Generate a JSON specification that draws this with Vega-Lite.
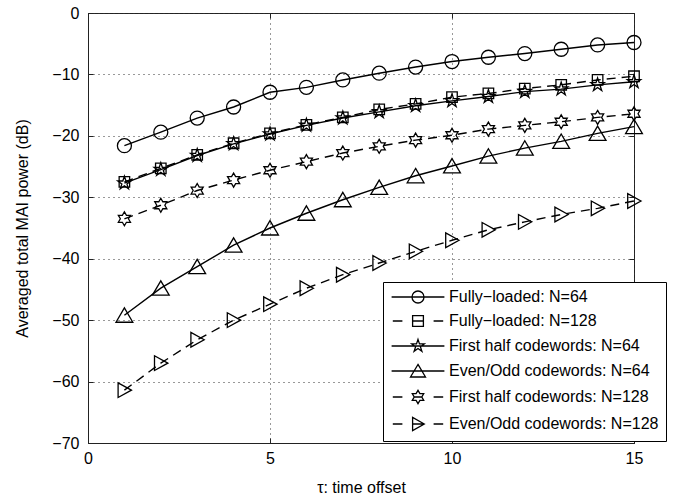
{
  "$schema": "https://vega.github.io/schema/vega-lite/v6.json",
  "width": 546,
  "height": 430,
  "autosize": {"type": "none"},
  "padding": {"left": 88, "top": 13, "right": 48, "bottom": 54},
  "background": "white",
  "config": {
    "font": "Liberation Sans",
    "view": {"stroke": "#222", "strokeWidth": 1},
    "axis": {
      "labelFont": "Liberation Sans",
      "labelFontSize": 16,
      "labelColor": "black",
      "titleFont": "Liberation Sans",
      "titleFontSize": 16,
      "titleFontWeight": "normal",
      "titleColor": "black",
      "domainColor": "#222",
      "tickColor": "#222",
      "labelFlush": false,
      "labelOverlap": false
    }
  },
  "data": {
    "values": [
      {"s": "Fully\u2212loaded: N=64", "x": 1, "y": -21.6},
      {"s": "Fully\u2212loaded: N=64", "x": 2, "y": -19.4},
      {"s": "Fully\u2212loaded: N=64", "x": 3, "y": -17.1},
      {"s": "Fully\u2212loaded: N=64", "x": 4, "y": -15.3},
      {"s": "Fully\u2212loaded: N=64", "x": 5, "y": -12.9},
      {"s": "Fully\u2212loaded: N=64", "x": 6, "y": -12.1},
      {"s": "Fully\u2212loaded: N=64", "x": 7, "y": -10.9},
      {"s": "Fully\u2212loaded: N=64", "x": 8, "y": -9.8},
      {"s": "Fully\u2212loaded: N=64", "x": 9, "y": -8.8},
      {"s": "Fully\u2212loaded: N=64", "x": 10, "y": -7.9},
      {"s": "Fully\u2212loaded: N=64", "x": 11, "y": -7.2},
      {"s": "Fully\u2212loaded: N=64", "x": 12, "y": -6.6},
      {"s": "Fully\u2212loaded: N=64", "x": 13, "y": -5.9},
      {"s": "Fully\u2212loaded: N=64", "x": 14, "y": -5.2},
      {"s": "Fully\u2212loaded: N=64", "x": 15, "y": -4.8},
      {"s": "Fully\u2212loaded: N=128", "x": 1, "y": -27.5},
      {"s": "Fully\u2212loaded: N=128", "x": 2, "y": -25.3},
      {"s": "Fully\u2212loaded: N=128", "x": 3, "y": -23.1},
      {"s": "Fully\u2212loaded: N=128", "x": 4, "y": -21.2},
      {"s": "Fully\u2212loaded: N=128", "x": 5, "y": -19.6},
      {"s": "Fully\u2212loaded: N=128", "x": 6, "y": -18.2},
      {"s": "Fully\u2212loaded: N=128", "x": 7, "y": -17.0},
      {"s": "Fully\u2212loaded: N=128", "x": 8, "y": -15.7},
      {"s": "Fully\u2212loaded: N=128", "x": 9, "y": -14.8},
      {"s": "Fully\u2212loaded: N=128", "x": 10, "y": -13.7},
      {"s": "Fully\u2212loaded: N=128", "x": 11, "y": -13.1},
      {"s": "Fully\u2212loaded: N=128", "x": 12, "y": -12.3},
      {"s": "Fully\u2212loaded: N=128", "x": 13, "y": -11.7},
      {"s": "Fully\u2212loaded: N=128", "x": 14, "y": -10.9},
      {"s": "Fully\u2212loaded: N=128", "x": 15, "y": -10.3},
      {"s": "First half codewords: N=64", "x": 1, "y": -27.7},
      {"s": "First half codewords: N=64", "x": 2, "y": -25.5},
      {"s": "First half codewords: N=64", "x": 3, "y": -23.2},
      {"s": "First half codewords: N=64", "x": 4, "y": -21.3},
      {"s": "First half codewords: N=64", "x": 5, "y": -19.7},
      {"s": "First half codewords: N=64", "x": 6, "y": -18.3},
      {"s": "First half codewords: N=64", "x": 7, "y": -17.1},
      {"s": "First half codewords: N=64", "x": 8, "y": -16.1},
      {"s": "First half codewords: N=64", "x": 9, "y": -15.1},
      {"s": "First half codewords: N=64", "x": 10, "y": -14.3},
      {"s": "First half codewords: N=64", "x": 11, "y": -13.6},
      {"s": "First half codewords: N=64", "x": 12, "y": -12.8},
      {"s": "First half codewords: N=64", "x": 13, "y": -12.4},
      {"s": "First half codewords: N=64", "x": 14, "y": -11.7},
      {"s": "First half codewords: N=64", "x": 15, "y": -11.2},
      {"s": "Even/Odd codewords: N=64", "x": 1, "y": -49.2},
      {"s": "Even/Odd codewords: N=64", "x": 2, "y": -44.8},
      {"s": "Even/Odd codewords: N=64", "x": 3, "y": -41.3},
      {"s": "Even/Odd codewords: N=64", "x": 4, "y": -37.8},
      {"s": "Even/Odd codewords: N=64", "x": 5, "y": -35.0},
      {"s": "Even/Odd codewords: N=64", "x": 6, "y": -32.6},
      {"s": "Even/Odd codewords: N=64", "x": 7, "y": -30.4},
      {"s": "Even/Odd codewords: N=64", "x": 8, "y": -28.4},
      {"s": "Even/Odd codewords: N=64", "x": 9, "y": -26.5},
      {"s": "Even/Odd codewords: N=64", "x": 10, "y": -24.9},
      {"s": "Even/Odd codewords: N=64", "x": 11, "y": -23.3},
      {"s": "Even/Odd codewords: N=64", "x": 12, "y": -22.0},
      {"s": "Even/Odd codewords: N=64", "x": 13, "y": -20.9},
      {"s": "Even/Odd codewords: N=64", "x": 14, "y": -19.6},
      {"s": "Even/Odd codewords: N=64", "x": 15, "y": -18.5},
      {"s": "First half codewords: N=128", "x": 1, "y": -33.5},
      {"s": "First half codewords: N=128", "x": 2, "y": -31.3},
      {"s": "First half codewords: N=128", "x": 3, "y": -28.9},
      {"s": "First half codewords: N=128", "x": 4, "y": -27.2},
      {"s": "First half codewords: N=128", "x": 5, "y": -25.6},
      {"s": "First half codewords: N=128", "x": 6, "y": -24.2},
      {"s": "First half codewords: N=128", "x": 7, "y": -22.8},
      {"s": "First half codewords: N=128", "x": 8, "y": -21.7},
      {"s": "First half codewords: N=128", "x": 9, "y": -20.7},
      {"s": "First half codewords: N=128", "x": 10, "y": -19.9},
      {"s": "First half codewords: N=128", "x": 11, "y": -18.9},
      {"s": "First half codewords: N=128", "x": 12, "y": -18.3},
      {"s": "First half codewords: N=128", "x": 13, "y": -17.7},
      {"s": "First half codewords: N=128", "x": 14, "y": -17.0},
      {"s": "First half codewords: N=128", "x": 15, "y": -16.4},
      {"s": "Even/Odd codewords: N=128", "x": 1, "y": -61.4},
      {"s": "Even/Odd codewords: N=128", "x": 2, "y": -57.0},
      {"s": "Even/Odd codewords: N=128", "x": 3, "y": -53.2},
      {"s": "Even/Odd codewords: N=128", "x": 4, "y": -50.0},
      {"s": "Even/Odd codewords: N=128", "x": 5, "y": -47.4},
      {"s": "Even/Odd codewords: N=128", "x": 6, "y": -44.8},
      {"s": "Even/Odd codewords: N=128", "x": 7, "y": -42.6},
      {"s": "Even/Odd codewords: N=128", "x": 8, "y": -40.7},
      {"s": "Even/Odd codewords: N=128", "x": 9, "y": -38.8},
      {"s": "Even/Odd codewords: N=128", "x": 10, "y": -37.0},
      {"s": "Even/Odd codewords: N=128", "x": 11, "y": -35.3},
      {"s": "Even/Odd codewords: N=128", "x": 12, "y": -34.0},
      {"s": "Even/Odd codewords: N=128", "x": 13, "y": -32.8},
      {"s": "Even/Odd codewords: N=128", "x": 14, "y": -31.8},
      {"s": "Even/Odd codewords: N=128", "x": 15, "y": -30.6}
    ]
  },
  "layer": [
    {
      "transform": [{"filter": {"field": "s", "oneOf": ["Fully\u2212loaded: N=64", "First half codewords: N=64", "Even/Odd codewords: N=64"]}}],
      "mark": {"type": "line", "stroke": "black", "strokeWidth": 1.4},
      "encoding": {
        "x": {
          "field": "x", "type": "quantitative",
          "scale": {"domain": [0, 15], "nice": false, "zero": false},
          "axis": {
            "orient": "bottom", "values": [0, 5, 10, 15], "grid": true,
            "gridDash": [1, 4], "gridColor": "#333", "gridWidth": 1, "gridOpacity": 1,
            "tickSize": -5, "labelPadding": 12,
            "title": "\u03c4: time offset", "titleY": 44, "titleBaseline": "middle"
          }
        },
        "y": {
          "field": "y", "type": "quantitative",
          "scale": {"domain": [-70, 0], "nice": false, "zero": false},
          "axis": {
            "orient": "left", "values": [-70, -60, -50, -40, -30, -20, -10, 0], "grid": true,
            "gridDash": [1, 4], "gridColor": "#333", "gridWidth": 1, "gridOpacity": 1,
            "tickSize": -5, "labelPadding": 14,
            "title": "Averaged total MAI power (dB)", "titleX": -66, "titleBaseline": "middle"
          }
        },
        "detail": {"field": "s", "type": "nominal"}
      }
    },
    {
      "transform": [{"filter": {"field": "s", "oneOf": ["Fully\u2212loaded: N=128", "First half codewords: N=128", "Even/Odd codewords: N=128"]}}],
      "mark": {"type": "line", "stroke": "black", "strokeWidth": 1.4, "strokeDash": [9, 6]},
      "encoding": {
        "x": {"field": "x", "type": "quantitative", "axis": null},
        "y": {"field": "y", "type": "quantitative", "axis": null},
        "detail": {"field": "s", "type": "nominal"}
      }
    },
    {
      "mark": {"type": "point", "filled": false, "stroke": "black", "strokeWidth": 1.3, "size": 196, "opacity": 1},
      "encoding": {
        "x": {
          "field": "x", "type": "quantitative",
          "axis": {"orient": "top", "values": [0, 5, 10, 15], "grid": false, "domain": false, "labels": false, "tickSize": -5, "title": null}
        },
        "y": {
          "field": "y", "type": "quantitative",
          "axis": {"orient": "right", "values": [-70, -60, -50, -40, -30, -20, -10, 0], "grid": false, "domain": false, "labels": false, "tickSize": -5, "title": null}
        },
        "shape": {
          "field": "s", "type": "nominal",
          "scale": {
            "domain": ["Fully\u2212loaded: N=64", "Fully\u2212loaded: N=128", "First half codewords: N=64", "Even/Odd codewords: N=64", "First half codewords: N=128", "Even/Odd codewords: N=128"],
            "range": [
              "circle",
              "M-0.75,-0.75H0.75V0.75H-0.75Z",
              "M0,-1L0.2245,-0.309L0.951,-0.309L0.363,0.118L0.588,0.809L0,0.382L-0.588,0.809L-0.363,0.118L-0.951,-0.309L-0.2245,-0.309Z",
              "M0,-1.05L1.2,1L-1.2,1Z",
              "M0,-1L0.2887,-0.5L0.866,-0.5L0.577,0L0.866,0.5L0.2887,0.5L0,1L-0.2887,0.5L-0.866,0.5L-0.577,0L-0.866,-0.5L-0.2887,-0.5Z",
              "M1,0L-0.9,-1.05L-0.9,1.05Z"
            ]
          },
          "legend": null
        }
      }
    },
    {
      "mark": {"type": "point", "filled": false, "stroke": "black", "strokeWidth": 1.3, "size": 144, "opacity": 0},
      "encoding": {
        "x": {"field": "x", "type": "quantitative", "axis": null},
        "y": {"field": "y", "type": "quantitative", "axis": null},
        "shape": {
          "field": "s", "type": "nominal",
          "scale": {
            "domain": ["Fully\u2212loaded: N=64", "Fully\u2212loaded: N=128", "First half codewords: N=64", "Even/Odd codewords: N=64", "First half codewords: N=128", "Even/Odd codewords: N=128"],
            "range": [
              "M-4.4,0H4.4M1,0A1,1,0,1,1,-1,0A1,1,0,1,1,1,0",
              "M-4.2,0H-2.6M2.6,0H4.2M-0.9,0H0.9M-0.9,-0.9H0.9V0.9H-0.9Z",
              "M-4.4,0H4.4M0,-1.1L0.247,-0.34L1.046,-0.34L0.4,0.13L0.647,0.89L0,0.42L-0.647,0.89L-0.4,0.13L-1.046,-0.34L-0.247,-0.34Z",
              "M-4.4,0H4.4M0,-1.1L1.25,1L-1.25,1Z",
              "M-4.2,0H-2.6M2.6,0H4.2M-0.6,0H0.6M0,-1.1L0.318,-0.55L0.953,-0.55L0.635,0L0.953,0.55L0.318,0.55L0,1.1L-0.318,0.55L-0.953,0.55L-0.635,0L-0.953,-0.55L-0.318,-0.55Z",
              "M-4.2,0H-2.6M2.6,0H4.2M-0.9,0H1M1.05,0L-0.9,-1.1L-0.9,1.1Z"
            ]
          },
          "legend": {
            "title": null, "orient": "none", "legendX": 295, "legendY": 269,
            "padding": 7, "strokeColor": "black", "fillColor": "white",
            "labelFont": "Liberation Sans", "labelFontSize": 16, "labelColor": "black", "labelLimit": 400,
            "symbolSize": 144, "symbolOffset": 20, "labelOffset": 23, "rowPadding": 7,
            "symbolStrokeWidth": 1.3, "symbolStrokeColor": "black", "symbolFillColor": "transparent",
            "symbolOpacity": 1
          }
        }
      }
    }
  ],
  "resolve": {
    "axis": {"x": "independent", "y": "independent"},
    "scale": {"shape": "independent"}
  }
}
